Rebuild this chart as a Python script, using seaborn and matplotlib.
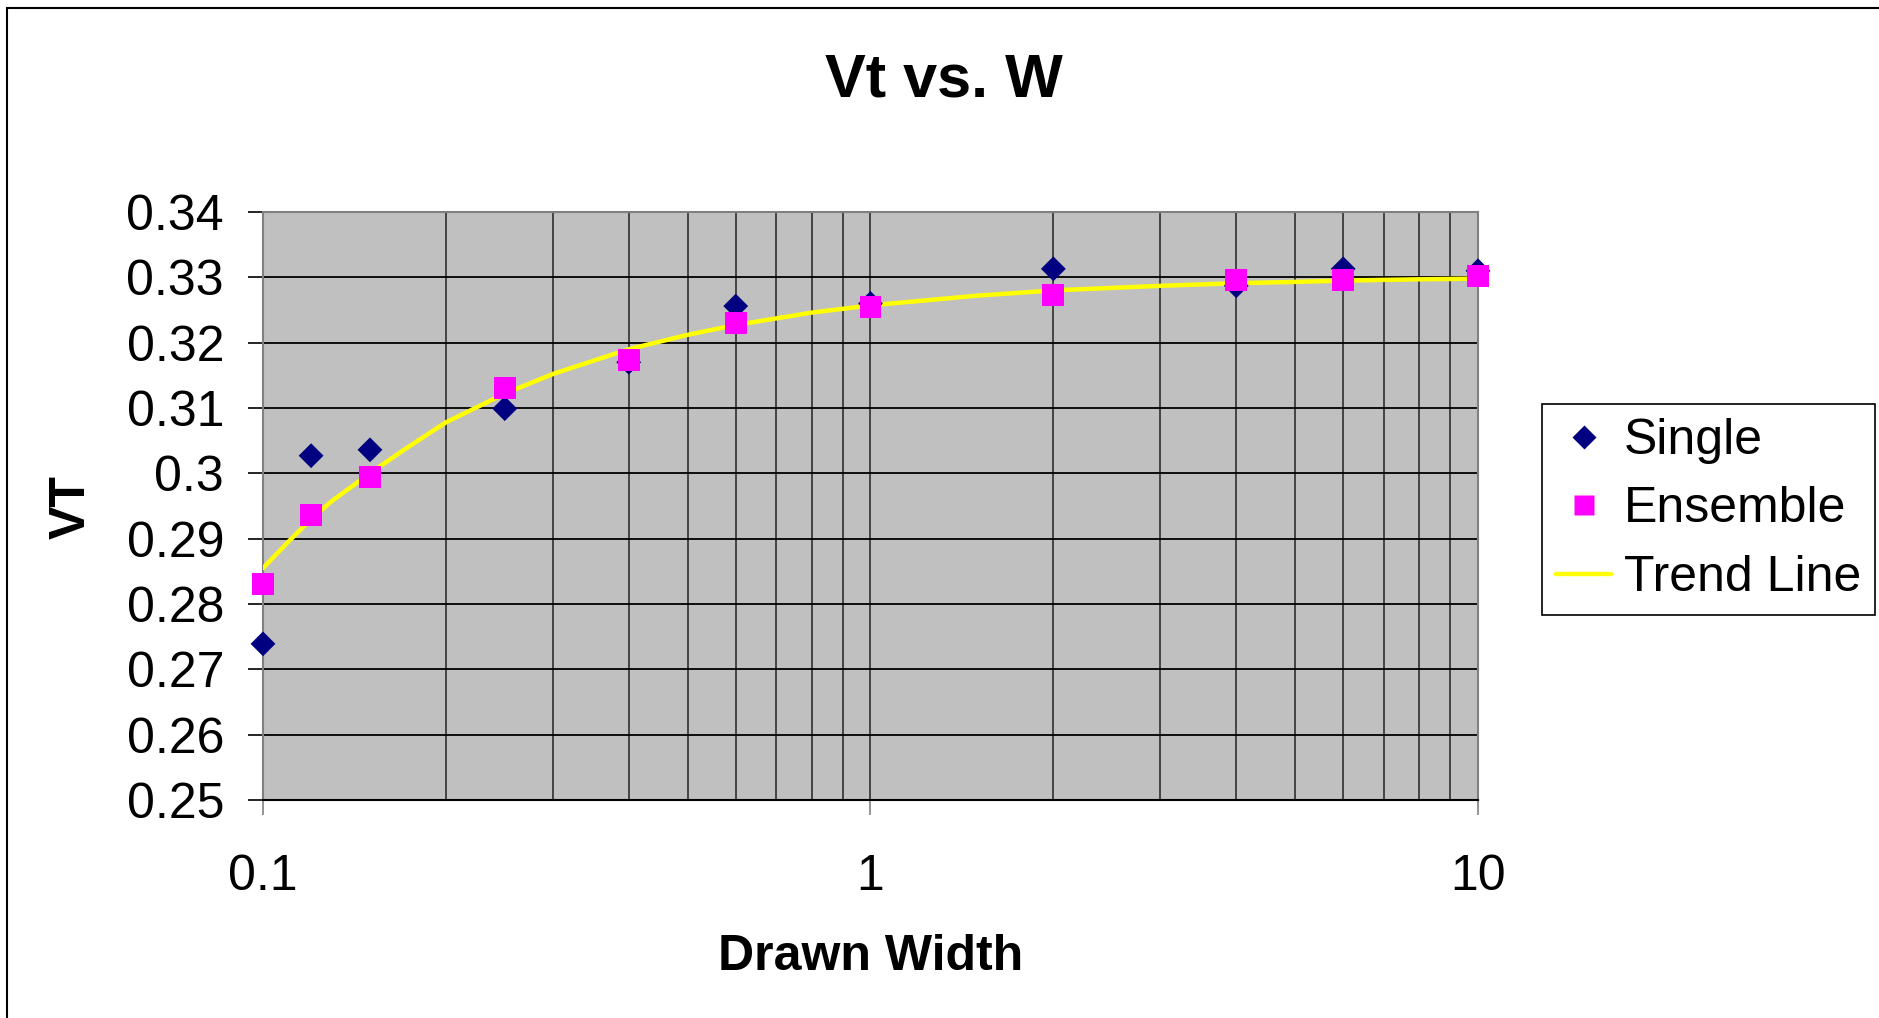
import matplotlib
matplotlib.use("Agg")
import matplotlib.pyplot as plt
import pandas as pd
import seaborn as sns
from matplotlib.lines import Line2D
from matplotlib.patches import Rectangle
from matplotlib.ticker import FixedLocator, LogLocator, NullFormatter

# measured widths
WIDTH = [0.1, 0.12, 0.15, 0.25, 0.4, 0.6, 1, 2, 4, 6, 10]
SINGLE_VT = [0.2739, 0.3027, 0.3036, 0.3099, 0.3170, 0.3256, 0.3260, 0.3313, 0.3287, 0.3313, 0.3310]
ENSEMBLE_VT = [0.2830, 0.2936, 0.2995, 0.3130, 0.3174, 0.3230, 0.3255, 0.3273, 0.3296, 0.3296, 0.3302]

# trend line
TREND_W = [0.1, 0.11, 0.12, 0.13, 0.15, 0.17, 0.2, 0.25, 0.3, 0.4, 0.5, 0.6, 0.8,
           1, 1.5, 2, 3, 4, 5, 6, 8, 10]
TREND_VT = [0.2855, 0.2895, 0.2930, 0.2958, 0.3000, 0.3035, 0.3078, 0.3122, 0.3152,
            0.3190, 0.3212, 0.3227, 0.3246, 0.3257, 0.3272, 0.3280, 0.3287, 0.3291,
            0.3293, 0.3295, 0.3297, 0.3298]

Y_TICKS = [0.25, 0.26, 0.27, 0.28, 0.29, 0.30, 0.31, 0.32, 0.33, 0.34]
Y_TICK_LABELS = ["0.25", "0.26", "0.27", "0.28", "0.29", "0.3", "0.31", "0.32", "0.33", "0.34"]
X_TICKS = [0.1, 1, 10]
X_TICK_LABELS = ["0.1", "1", "10"]

W_PX, H_PX = 1879, 1018

sns.set_style("white")
plt.rcParams["font.family"] = ["Liberation Sans", "DejaVu Sans"]
plt.rcParams["text.color"] = "black"
plt.rcParams["xtick.labelcolor"] = "black"
plt.rcParams["ytick.labelcolor"] = "black"

points = pd.DataFrame({"w": WIDTH, "single": SINGLE_VT, "ensemble": ENSEMBLE_VT})
trend = pd.DataFrame({"w": TREND_W, "vt": TREND_VT})

fig = plt.figure(figsize=(W_PX / 100, H_PX / 100), dpi=100)
ax = fig.add_axes([263 / W_PX, 1 - 800 / H_PX, 1215 / W_PX, 588 / H_PX])
ax.set_facecolor("#C0C0C0")

sns.lineplot(data=trend, x="w", y="vt", sort=False, color="#FFFF00", lw=3.2,
             ax=ax, zorder=3, legend=False)
sns.scatterplot(data=points, x="w", y="single", marker="D", s=160, color="#000080",
                edgecolor="none", ax=ax, zorder=4, legend=False, clip_on=False)
sns.scatterplot(data=points, x="w", y="ensemble", marker="s", s=250, color="#FF00FF",
                edgecolor="none", ax=ax, zorder=5, legend=False, clip_on=False)

ax.set_xscale("log")
ax.set_xlim(0.1, 10)
ax.set_ylim(0.25, 0.34)
ax.xaxis.set_major_locator(FixedLocator(X_TICKS))
ax.set_xticklabels(X_TICK_LABELS)
ax.xaxis.set_minor_locator(LogLocator(base=10, subs=range(2, 10)))
ax.xaxis.set_minor_formatter(NullFormatter())
ax.set_yticks(Y_TICKS)
ax.set_yticklabels(Y_TICK_LABELS)

ax.grid(which="major", axis="y", color="black", lw=1.3, zorder=1)
ax.grid(which="both", axis="x", color="#3a3a3a", lw=1.3, zorder=1)
ax.set_axisbelow(True)

ax.tick_params(axis="y", which="major", direction="out", length=11, width=1.2,
               color="black", labelsize=36, pad=17, left=True)
ax.tick_params(axis="x", which="major", direction="out", length=11, width=1.2,
               color="#808080", labelsize=36, pad=28, bottom=True)
ax.tick_params(axis="x", which="minor", length=0)

for side in ["top", "right", "left"]:
    ax.spines[side].set_color("#808080")
    ax.spines[side].set_linewidth(1.5)
ax.spines["bottom"].set_color("black")
ax.spines["bottom"].set_linewidth(1.5)

ax.set_xlabel("")
ax.set_ylabel("")
fig.text(944 / W_PX, 1 - 81 / H_PX, "Vt vs. W", ha="center", va="center",
         fontsize=44, fontweight="bold")
fig.text(72 / W_PX, 1 - 507 / H_PX, "VT", ha="center", va="center", rotation=90,
         fontsize=36, fontweight="bold")
fig.text(871 / W_PX, 1 - 957 / H_PX, "Drawn Width", ha="center", va="center",
         fontsize=36, fontweight="bold")

handles = [
    Line2D([], [], ls="none", marker="D", ms=12, color="#000080", mec="none"),
    Line2D([], [], ls="none", marker="s", ms=15, color="#FF00FF", mec="none"),
    Line2D([], [], color="#FFFF00", lw=3.2),
]
leg = fig.legend(handles, ["Single", "Ensemble", "Trend Line"],
                 loc="upper left", bbox_to_anchor=(1542 / W_PX, 1 - 404 / H_PX),
                 fontsize=36, frameon=True, fancybox=False, edgecolor="black",
                 framealpha=1, handlelength=1.1, handletextpad=0.25,
                 labelspacing=0.45, borderpad=0.28, borderaxespad=0)
leg.get_frame().set_linewidth(1.2)

fig.patches.append(Rectangle((7 / W_PX, -0.1), 1.2, 0.1 + 1 - 8 / H_PX,
                             transform=fig.transFigure, fill=False,
                             edgecolor="black", lw=1.5))

fig.savefig("out.png", dpi=100)
